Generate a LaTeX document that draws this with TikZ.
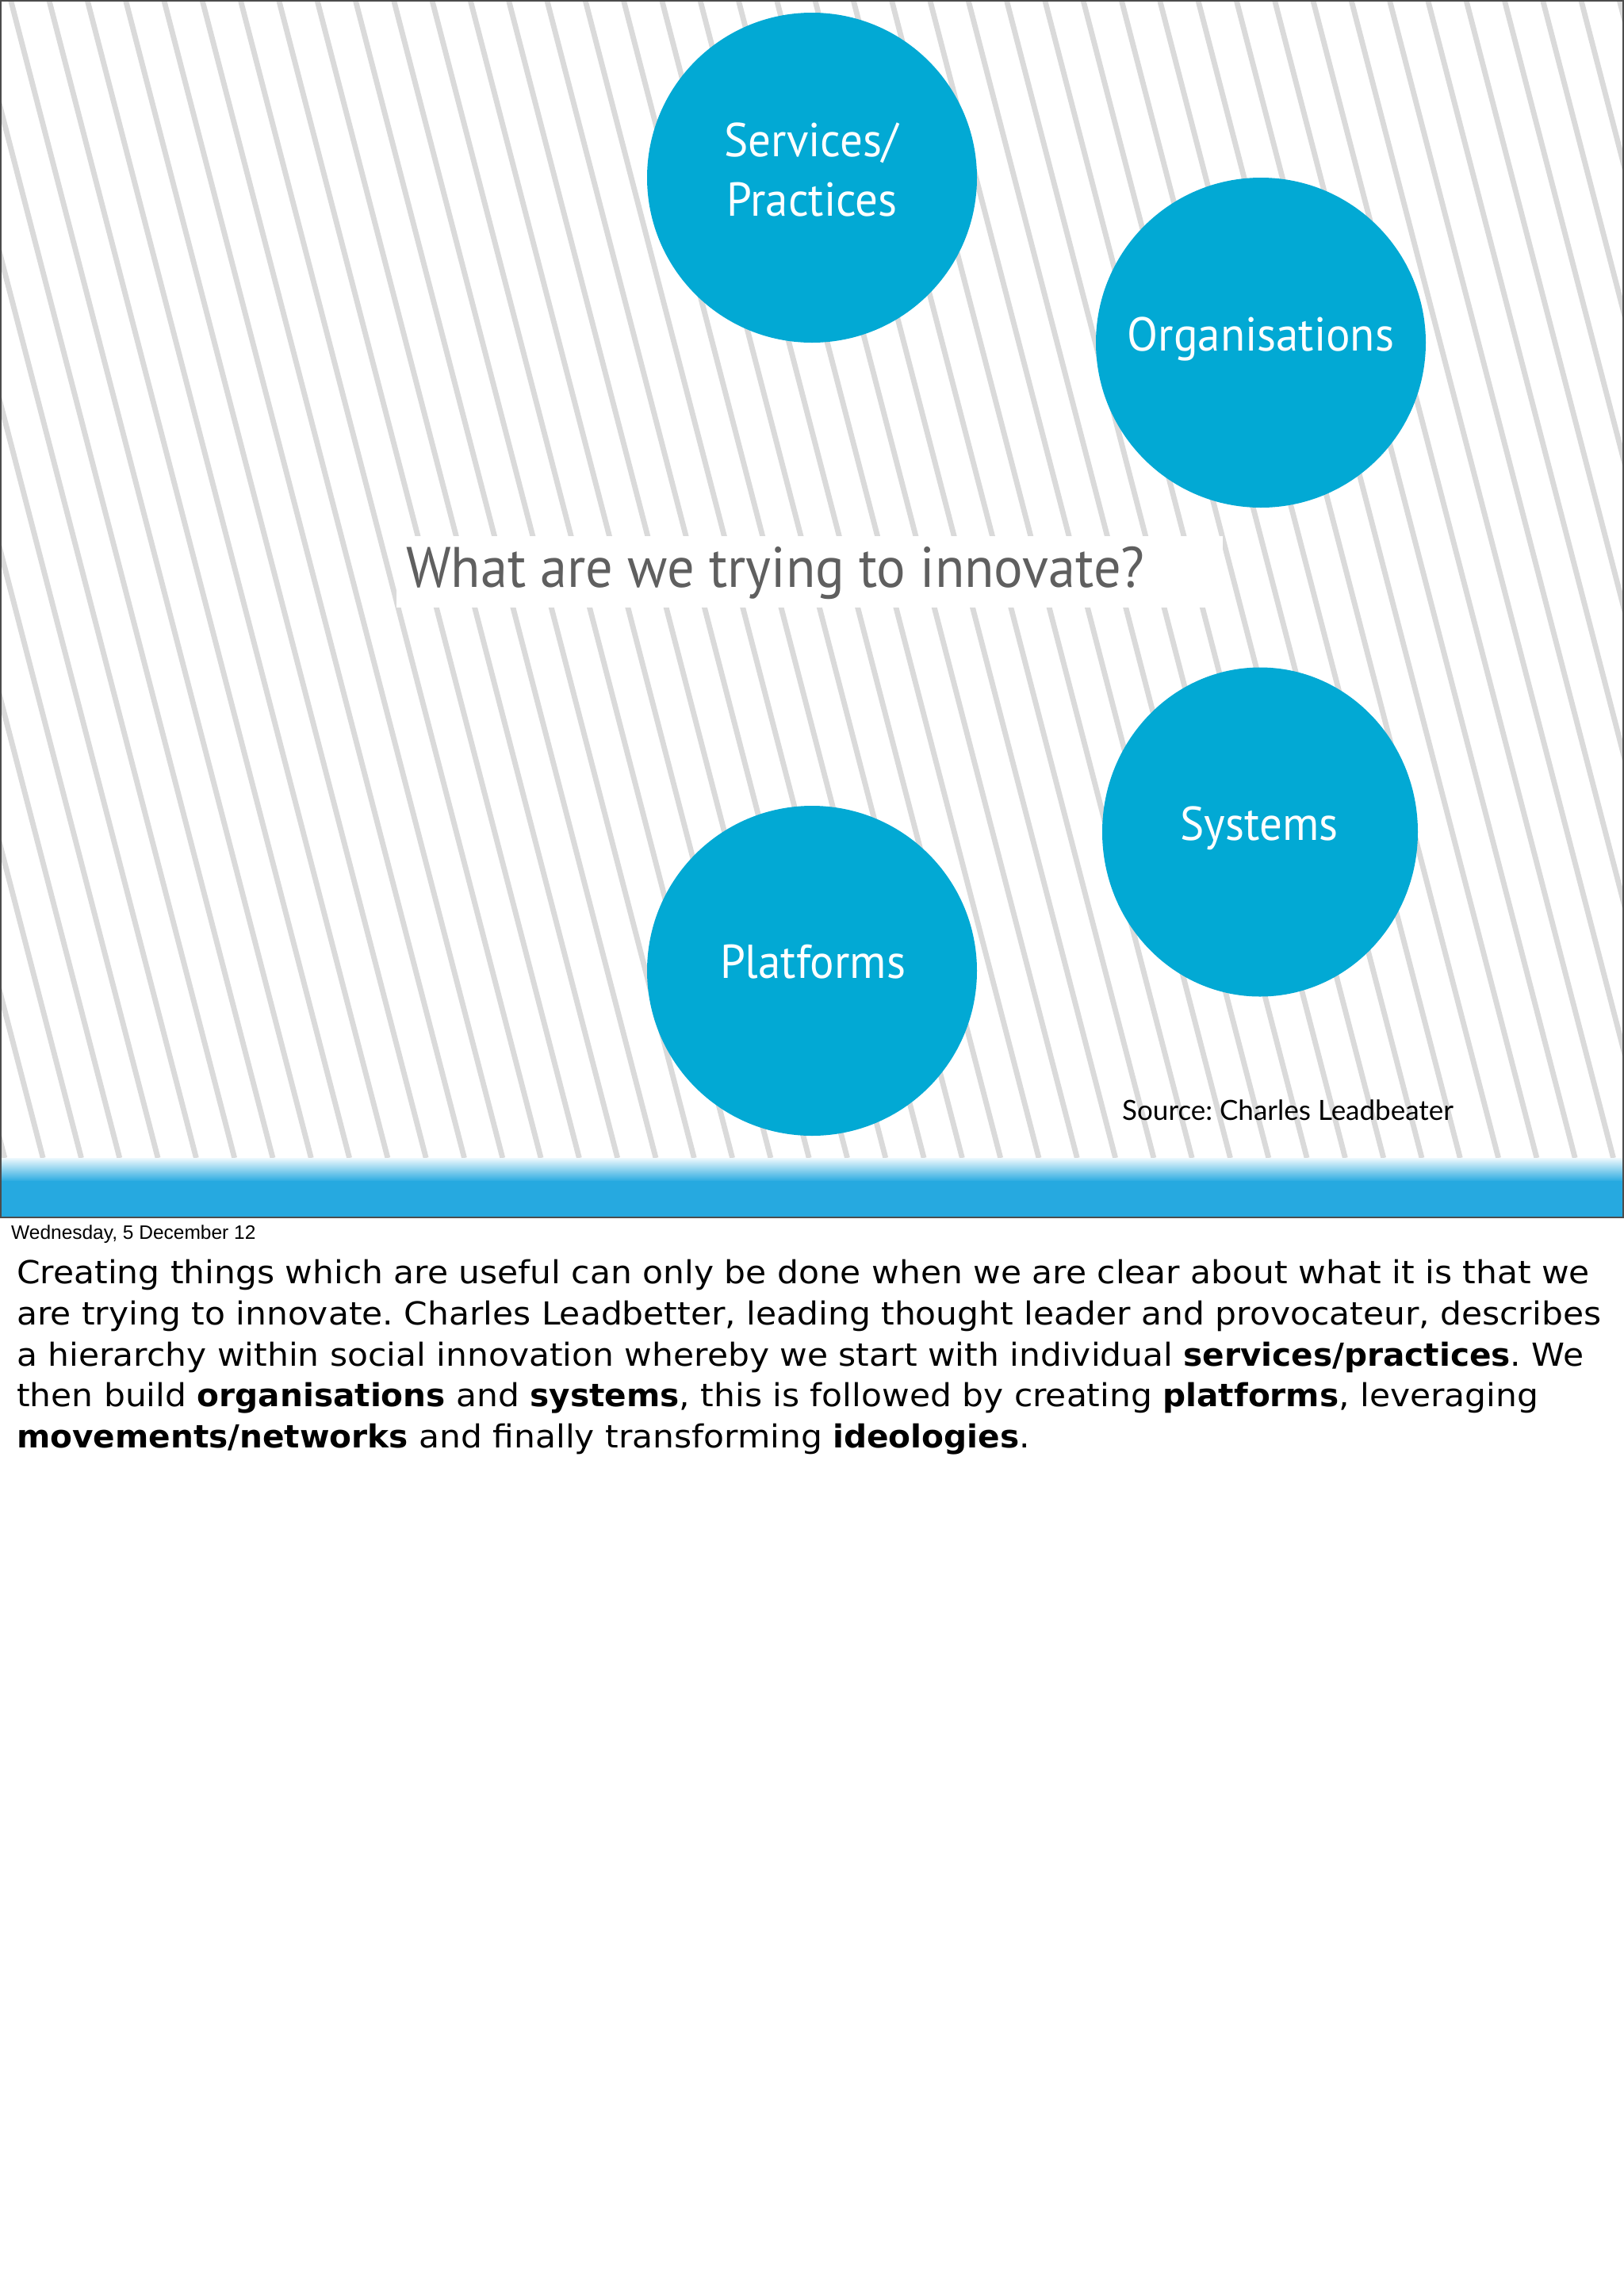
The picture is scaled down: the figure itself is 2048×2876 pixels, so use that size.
\documentclass[tikz,border=0pt]{standalone}
\usepackage{fontspec}
\usetikzlibrary{shapes.geometric}
\setmainfont[FakeStretch=1.06, BoldFeatures={FakeStretch=1.015}]{DejaVu Sans}
\newfontfamily\dinfont[FakeStretch=0.95]{PT Sans}
\newfontfamily\gillfont{Lato}
\newfontfamily\helvfont{Liberation Sans}

\definecolor{bubbleblue}{HTML}{02A9D4}
\definecolor{bandblue}{HTML}{26A9E0}
\definecolor{stripegray}{HTML}{DADADA}
\definecolor{titlegray}{HTML}{5F5F5F}

\tikzset{
  bubble/.style={ellipse, fill=bubbleblue, minimum width=416pt,
    minimum height=416pt, inner sep=0pt},
  bubbletext/.style={anchor=base, inner sep=0pt, text=white,
    font=\dinfont\fontsize{60}{75}\selectfont},
  stripe/.style={draw=stripegray, line width=6.8pt},
  bodytext/.style={anchor=base west, inner sep=0pt,
    font=\fontsize{40}{50}\selectfont},
}

\begin{document}
\frenchspacing
\begin{tikzpicture}[x=1pt,y=-1pt]
\useasboundingbox (0,0) rectangle (2048,2876);
\fill[white] (0,0) rectangle (2048,2876);

% STRIPES
\begin{scope}
  \clip (0,0) rectangle (2048,1460);
  \foreach \k in {-9,...,42}
    \draw[stripe] ({8.3+48.3*\k},-20) -- ++(384,1480);
\end{scope}

% BAND
\shade[top color=bandblue!8, bottom color=bandblue] (0,1460) rectangle (2048,1490);
\fill[bandblue] (0,1489) rectangle (2048,1534);
\draw[black!70, line width=2.5pt] (1,1) rectangle (2047,1535);

% QUESTION
\fill[white] (500,676) rectangle (1542,766);
\node[anchor=base west, inner sep=0pt, text=titlegray,
  font=\dinfont\fontsize{72}{80}\selectfont] (question) at (512,740)
  {What are we trying to innovate?};

% CIRCLES
\node[bubble] (serv) at (1024,224) {};
\node[bubbletext] (servtxt) at (1023,197) {Services/};
\node[bubbletext] (practxt) at (1024,272) {Practices};

\node[bubble] (org) at (1590,432) {};
\node[bubbletext] (orgtxt) at (1590,442) {Organisations};

\node[bubble, minimum width=398pt, minimum height=415pt] (sys) at (1589,1049) {};
\node[bubbletext] (systxt) at (1588,1059) {Systems};

\node[bubble] (plat) at (1024,1224) {};
\node[bubbletext] (plattxt) at (1025,1233) {Platforms};

% NOTES
\node[anchor=base west, inner sep=0pt, font=\gillfont\fontsize{35}{40}\selectfont]
  (source) at (1415,1412) {Source: Charles Leadbeater};
\node[anchor=base west, inner sep=0pt, font=\helvfont\fontsize{24.5}{28}\selectfont]
  (date) at (14,1562) {Wednesday, 5 December 12};

\node[bodytext] (line1) at (21,1618) {Creating things which are useful can only be done when we are clear about what it is that we};
\node[bodytext] (line2) at (21,1670) {are trying to innovate. Charles Leadbetter, leading thought leader and provocateur, describes};
\node[bodytext] (line3) at (21,1722) {a hierarchy within social innovation whereby we start with individual \textbf{services/practices}. We};
\node[bodytext] (line4) at (21,1773) {then build \textbf{organisations} and \textbf{systems}, this is followed by creating \textbf{platforms}, leveraging};
\node[bodytext] (line5) at (21,1825) {\textbf{movements/networks} and finally transforming \textbf{ideologies}.};

\end{tikzpicture}
\end{document}
